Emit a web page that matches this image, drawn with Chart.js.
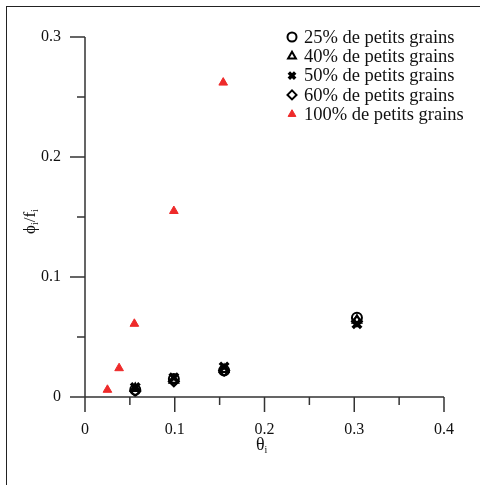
<!DOCTYPE html>
<html>
<head>
<meta charset="utf-8">
<script src="https://cdn.jsdelivr.net/npm/chart.js@4/dist/chart.umd.min.js"></script>
<style>
  html, body { margin: 0; padding: 0; background: #fff; overflow: hidden; }
  #wrap { position: relative; width: 480px; height: 485px; }
  #frame { position: absolute; left: 6px; top: 6px; width: 500px; height: 500px; border-left: 1.5px solid #222; border-top: 1.5px solid #222; }
  canvas { position: absolute; left: 0; top: 0; }
</style>
</head>
<body>
<div id="wrap">
  <div id="frame"></div>
  <canvas id="myChart" width="480" height="485"></canvas>
</div>
<script>
// series values [theta_i, phi_i/f_i]
var seriesLabels = ['25% de petits grains', '40% de petits grains', '50% de petits grains', '60% de petits grains', '100% de petits grains'];
var s25 = [[0.056, 0.006], [0.099, 0.015], [0.155, 0.022], [0.303, 0.066]];
var s40 = [[0.056, 0.007], [0.099, 0.014], [0.155, 0.023], [0.303, 0.064]];
var s50 = [[0.056, 0.008], [0.099, 0.016], [0.155, 0.025], [0.303, 0.061]];
var s60 = [[0.056, 0.005], [0.099, 0.013], [0.155, 0.022], [0.303, 0.063]];
var s100 = [[0.025, 0.006], [0.038, 0.024], [0.055, 0.061], [0.099, 0.155], [0.154, 0.262]];
var xTicks = [0, 0.1, 0.2, 0.3, 0.4];
var yTicks = [0, 0.1, 0.2, 0.3];

var FONT = '"Liberation Serif", "Times New Roman", serif';

function pts(arr) {
    return arr.map(function (p) { return { x: p[0], y: p[1] }; });
}

var styles = [
    { pointStyle: 'circle', radius: 5, borderColor: '#000', backgroundColor: 'rgba(0,0,0,0)', borderWidth: 2 },
    { pointStyle: 'triangle', radius: 5, borderColor: '#000', backgroundColor: 'rgba(0,0,0,0)', borderWidth: 2 },
    { pointStyle: 'crossRot', radius: 6, borderColor: '#000', backgroundColor: '#000', borderWidth: 3.5 },
    { pointStyle: 'rectRot', radius: 5, borderColor: '#000', backgroundColor: 'rgba(0,0,0,0)', borderWidth: 2 },
    { pointStyle: 'triangle', radius: 5, borderColor: '#ee2a2a', backgroundColor: '#ee2a2a', borderWidth: 1 }
];
var allData = [s25, s40, s50, s60, s100];

var datasets = allData.map(function (d, i) {
    var st = styles[i];
    return {
        label: seriesLabels[i],
        data: pts(d),
        pointStyle: st.pointStyle,
        pointRadius: st.radius,
        pointHoverRadius: st.radius,
        pointBorderColor: st.borderColor,
        pointBackgroundColor: st.backgroundColor,
        pointBorderWidth: st.borderWidth,
        showLine: false
    };
});

// axes, ticks, titles and legend
var decor = {
    id: 'decor',
    afterDraw: function (chart) {
        var c = chart.ctx, xs = chart.scales.x, ys = chart.scales.y;
        var x0 = xs.getPixelForValue(0), y0 = ys.getPixelForValue(0);
        c.save();
        c.strokeStyle = '#333';
        c.lineWidth = 1.5;
        c.beginPath();
        c.moveTo(x0, ys.getPixelForValue(0.3));
        c.lineTo(x0, y0 + 15);
        c.moveTo(x0 - 15, y0);
        c.lineTo(xs.getPixelForValue(0.4), y0);
        var v, p;
        for (v = 0; v <= 0.3001; v += 0.05) {
            p = ys.getPixelForValue(v);
            var major = Math.abs(v * 10 - Math.round(v * 10)) < 1e-6;
            c.moveTo(x0 - (major ? 15 : 8), p);
            c.lineTo(x0, p);
        }
        for (v = 0.05; v <= 0.4001; v += 0.05) {
            p = xs.getPixelForValue(v);
            var majorX = Math.abs(v * 10 - Math.round(v * 10)) < 1e-6;
            c.moveTo(p, y0);
            c.lineTo(p, y0 + (majorX ? 15 : 8));
        }
        c.stroke();

        // axis titles
        c.fillStyle = '#111';
        c.textBaseline = 'alphabetic';
        c.textAlign = 'left';
        c.font = '18px ' + FONT;
        var tx = 256, ty = 450;
        c.fillText('\u03b8', tx, ty);
        var w = c.measureText('\u03b8').width;
        c.font = '10px ' + FONT;
        c.fillText('i', tx + w, ty + 3);

        c.save();
        c.translate(35, 234);
        c.rotate(-Math.PI / 2);
        var parts = [['\u03d5', 17, 0], ['i', 10, 3], ['/f', 17, 0], ['i', 10, 3]];
        var cx = 0;
        parts.forEach(function (pt) {
            c.font = pt[1] + 'px ' + FONT;
            c.fillText(pt[0], cx, pt[2]);
            cx += c.measureText(pt[0]).width;
        });
        c.restore();

        // legend
        c.font = '18.5px ' + FONT;
        c.textBaseline = 'middle';
        for (var i = 0; i < seriesLabels.length; i++) {
            var ly = 37 + i * 19.3;
            var st = styles[i];
            c.strokeStyle = st.borderColor;
            c.fillStyle = st.backgroundColor;
            c.lineWidth = st.borderWidth;
            Chart.helpers.drawPoint(c, { pointStyle: st.pointStyle, radius: 4.5, borderWidth: st.borderWidth, rotation: 0 }, 292, ly);
            c.fillStyle = '#111';
            c.fillText(seriesLabels[i], 304, ly + 1);
        }
        c.restore();
    }
};

var ctx = document.getElementById('myChart').getContext('2d');
var chart = new Chart(ctx, {
    type: 'scatter',
    data: { datasets: datasets },
    plugins: [decor],
    options: {
        responsive: false,
        animation: false,
        layout: { padding: { left: 0, top: 37, right: 36, bottom: 0 } },
        plugins: {
            legend: { display: false },
            tooltip: { enabled: false }
        },
        scales: {
            x: {
                type: 'linear',
                min: 0, max: 0.4,
                afterFit: function (s) { s.height = 88; },
                afterBuildTicks: function (s) { s.ticks = xTicks.map(function (v) { return { value: v }; }); },
                grid: { display: false },
                border: { display: false },
                ticks: {
                    padding: 15,
                    color: '#111',
                    font: { family: FONT, size: 16 },
                    maxRotation: 0,
                    callback: function (v) { return String(v); }
                }
            },
            y: {
                type: 'linear',
                min: 0, max: 0.3,
                afterFit: function (s) { s.width = 85; },
                afterBuildTicks: function (s) { s.ticks = yTicks.map(function (v) { return { value: v }; }); },
                grid: { display: false },
                border: { display: false },
                ticks: {
                    padding: 16,
                    color: '#111',
                    font: { family: FONT, size: 16 },
                    callback: function (v) { return String(v); }
                }
            }
        }
    }
});
</script>
</body>
</html>
